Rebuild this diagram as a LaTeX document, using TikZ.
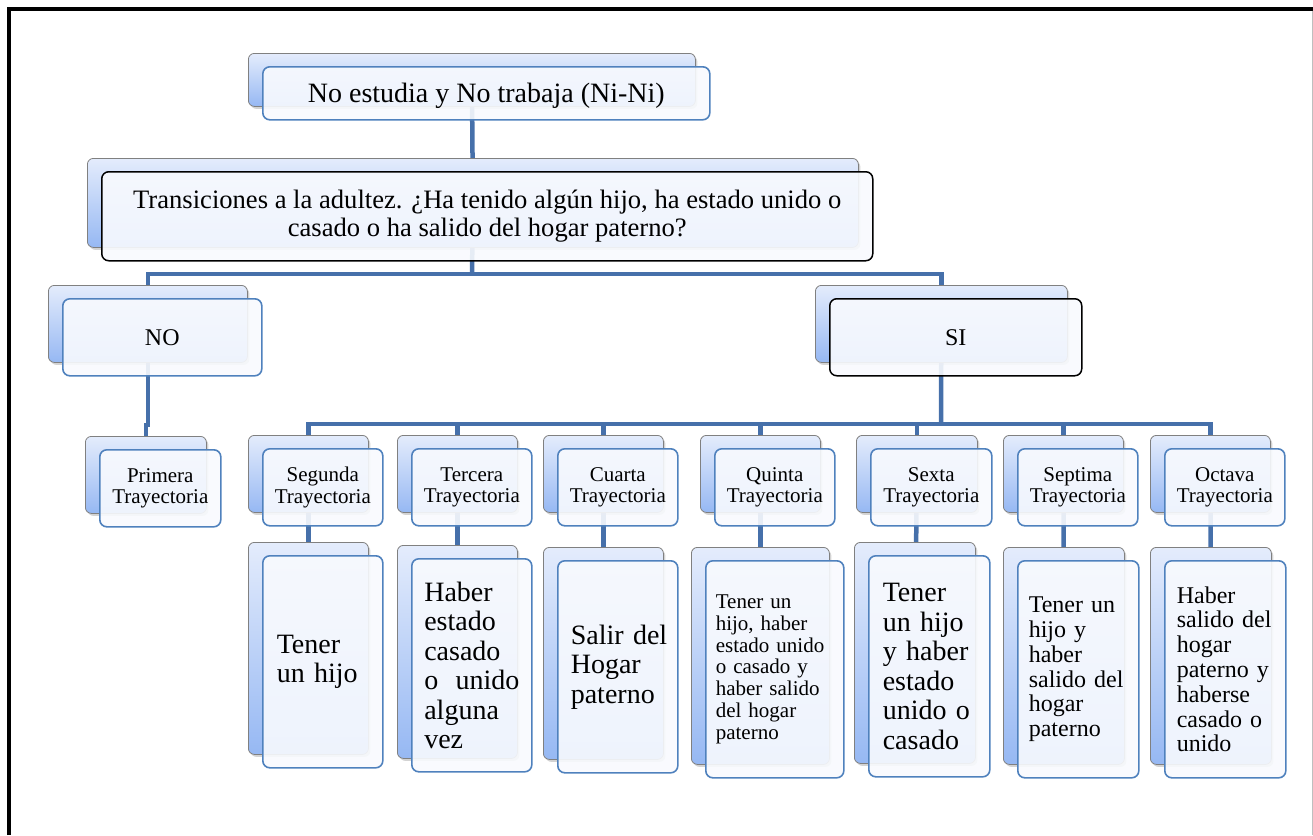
\documentclass[tikz,border=0pt]{standalone}
\usepackage{fontspec}
\setmainfont{Liberation Serif}
\usetikzlibrary{shadows,backgrounds}
\definecolor{conncol}{RGB}{70,112,170}
\definecolor{fborder}{RGB}{79,129,189}
\definecolor{btop}{RGB}{228,236,252}
\definecolor{bbot}{RGB}{150,184,243}
\definecolor{ffill}{RGB}{248,250,254}
\tikzset{
  backbox/.style={draw=black!50, line width=0.8pt, rounded corners=6pt,
    top color=btop, bottom color=bbot,
    drop shadow={shadow xshift=2pt, shadow yshift=-2.5pt, opacity=0.35}, inner sep=0pt},
  frontbox/.style={draw=fborder, line width=1.6pt, rounded corners=7pt, fill=ffill,
    fill opacity=0.9, text opacity=1, inner sep=0pt},
  darkbox/.style={draw=black, line width=1.5pt},
  conn/.style={draw=conncol, line width=4.5pt},
  trajtext/.style={align=center, font=\fontsize{21}{21.5}\selectfont},
  bigtext/.style={align=left, text width=#1, font=\fontsize{28}{29.5}\selectfont},
  midtext/.style={align=left, text width=#1, font=\fontsize{24}{24.8}\selectfont},
  smalltext/.style={align=left, text width=#1, font=\fontsize{21}{21.8}\selectfont},
}
\newcommand\dbox[6][]{%
  \node[backbox, anchor=north west, minimum width=#4pt, minimum height=#5pt] (#2-b) at (#3) {};
  \node[frontbox, anchor=north west, minimum width=#4pt, minimum height=#5pt, #1] (#2) at ([shift={(14,13)}]#2-b.north west) {#6};
}
\begin{document}
\begin{tikzpicture}[x=1pt,y=-1pt]
\useasboundingbox (0,0) rectangle (1313,835);
% outer frame
\draw[line width=3.7pt, black] (8.8,835) -- (8.8,8.8) -- (1313,8.8);
\draw[line width=1pt, black!25] (1312.2,10.5) -- (1312.2,835);

% level 0,1
\dbox[font=\fontsize{28}{30}\selectfont, text depth=2pt]{top}{248,53}{447}{53}{No estudia y No trabaja (Ni-Ni)}
\dbox[darkbox, align=center, font=\fontsize{26.6}{28}\selectfont]{trans}{87,158}{771}{89}{Transiciones a la adultez. ¿Ha tenido algún hijo, ha estado unido o\\casado o ha salido del hogar paterno?}
% level 2
\dbox[font=\fontsize{24}{26}\selectfont]{no}{48,285}{199}{77}{NO}
\dbox[darkbox, font=\fontsize{24}{26}\selectfont]{si}{815,285}{252}{77}{SI}
% trajectories
\dbox[trajtext]{prim}{85,436}{121}{77}{Primera\\Trayectoria}
\dbox[trajtext]{seg}{248,435}{120}{77}{Segunda\\Trayectoria}
\dbox[trajtext]{ter}{397,435}{120}{77}{Tercera\\Trayectoria}
\dbox[trajtext]{cua}{543,435}{120}{77}{Cuarta\\Trayectoria}
\dbox[trajtext]{qui}{700,435}{120}{77}{Quinta\\Trayectoria}
\dbox[trajtext]{sex}{856,435}{121}{77}{Sexta\\Trayectoria}
\dbox[trajtext]{sep}{1003,435}{120}{77}{Septima\\Trayectoria}
\dbox[trajtext]{oct}{1150,435}{120}{77}{Octava\\Trayectoria}
% descriptions
\dbox[bigtext=92pt]{segd}{248,542}{120}{212}{Tener\\un~hijo}
\dbox[bigtext=95pt]{terd}{397,545}{120}{213}{Haber\\estado\\casado\\o\hfill unido\\alguna\\vez}
\dbox[bigtext=94pt]{cuad}{543,547}{120}{212}{Salir~del\\Hogar\\paterno}
\dbox[smalltext=118pt]{quid}{691,547}{138}{217}{Tener~un\\hijo,~haber\\estado~unido\\o~casado~y\\haber~salido\\del~hogar\\paterno}
\dbox[bigtext=93pt]{sexd}{854,542}{121}{221}{Tener\\un~hijo\\y~haber\\estado\\unido~o\\casado}
\dbox[midtext=99pt]{sepd}{1003,547}{121}{217}{Tener~un\\hijo~y\\haber\\salido~del\\hogar\\paterno}
\dbox[midtext=97pt]{octd}{1150,547}{121}{217}{Haber\\salido~del\\hogar\\paterno~y\\haberse\\casado~o\\unido}

% connectors
\begin{scope}[on background layer]
  \coordinate (j1) at (472,274);
  \coordinate (jp) at (147.5,425);
  \coordinate (j2) at (941,424);
  \draw[conn] (top-b.center) -- (trans-b.center);
  \draw[conn] (trans-b.center) -- (j1);
  \draw[conn] (no-b.center) |- (j1) -| (si-b.center);
  \draw[conn] (no-b.center) |- (jp) -| (prim-b.center);
  \draw[conn] (si-b.center) -- (j2);
  \draw[conn] (seg-b.center) |- (j2) -| (oct-b.center);
  \foreach \n in {ter,cua,qui,sex,sep} \draw[conn] (\n-b.center) |- (j2);
  \foreach \n in {seg,ter,cua,qui,sex,sep,oct} \draw[conn] (\n-b.center) -- (\n d-b.center);
\end{scope}
\end{tikzpicture}
\end{document}
